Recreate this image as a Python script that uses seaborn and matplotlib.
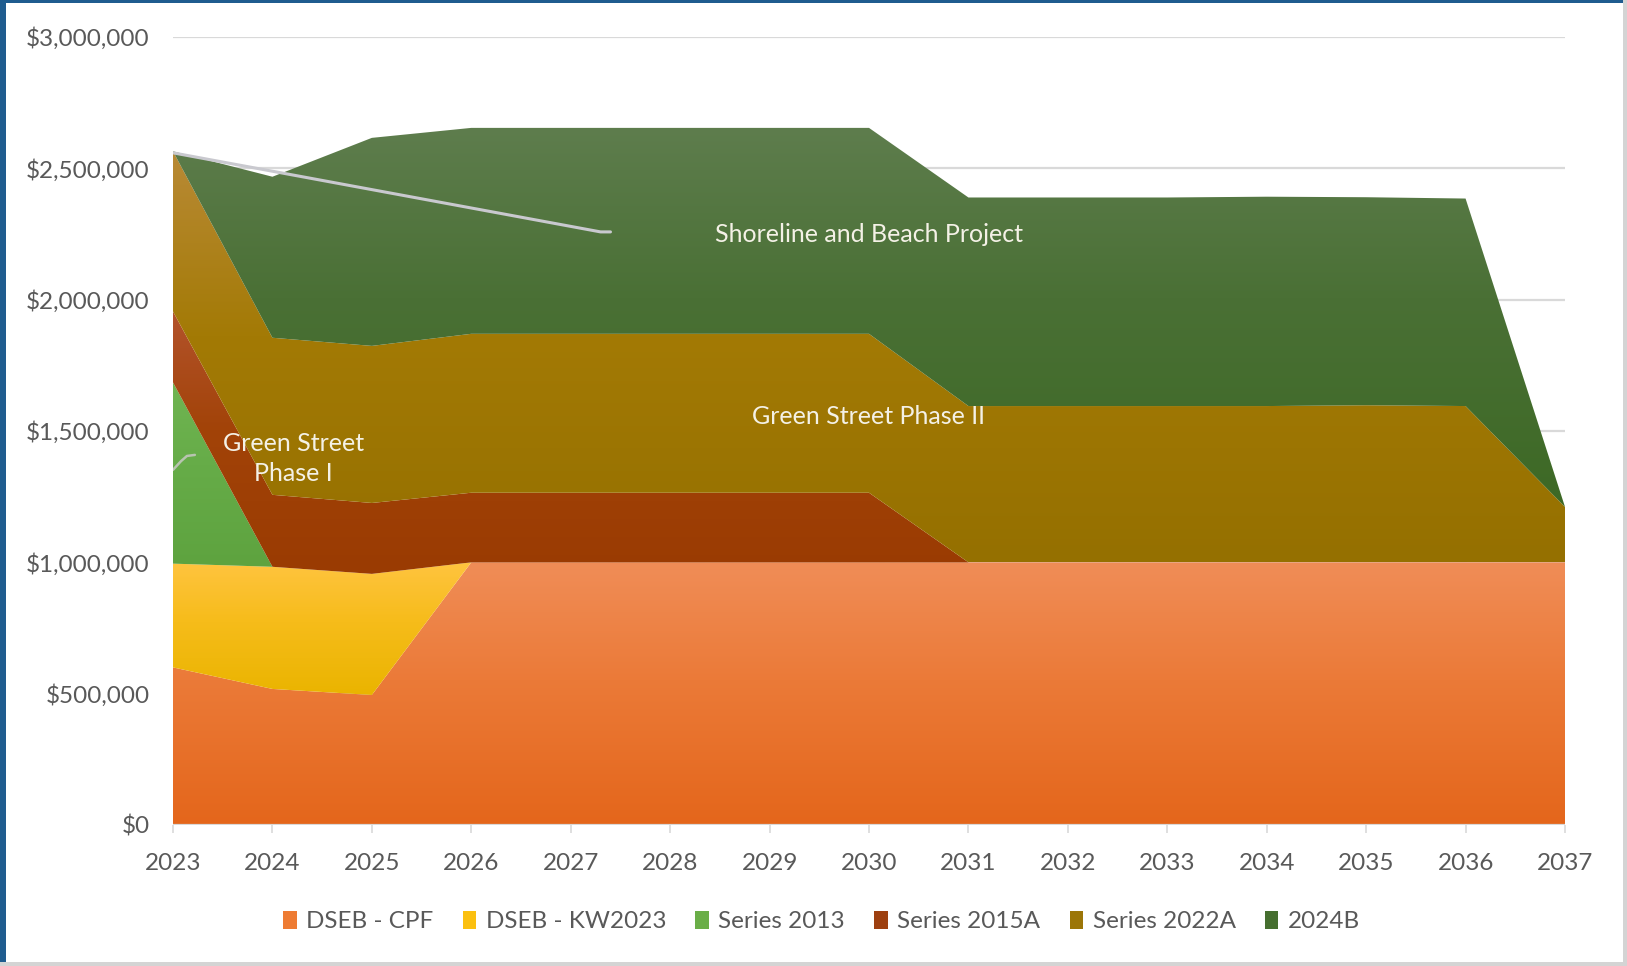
import numpy as np
import pandas as pd
import matplotlib
matplotlib.use("Agg")
import matplotlib.pyplot as plt
import seaborn as sns
from matplotlib.colors import LinearSegmentedColormap
from matplotlib.patches import Patch, Rectangle
from matplotlib.ticker import FuncFormatter, MultipleLocator

# ---- data -------------------------------------------------------------
years = list(range(2023, 2038))
series_names = ["DSEB - CPF", "DSEB - KW2023", "Series 2013",
                "Series 2015A", "Series 2022A", "2024B"]
dseb_cpf = [600000, 518000, 495000] + [1000000] * 12
dseb_kw2023 = [395000, 465000, 461000] + [0] * 12
series_2013 = [690000] + [0] * 14
series_2015a = [270000, 274000, 270000, 265000, 265000, 265000, 265000, 265000] + [0] * 7
series_2022a = [610000, 598000, 598000, 605000, 605000, 605000, 605000, 605000,
                595000, 595000, 595000, 595000, 598000, 595000, 211000]
series_2024b = [0, 613000, 792000, 784000, 784000, 784000, 784000, 784000,
                794000, 794000, 794000, 797000, 792000, 790000, 0]

annotations = [
    ("Shoreline and Beach Project", 2030.0, 2250000),
    ("Green Street Phase II", 2030.0, 1555000),
    ("Green Street\nPhase I", 2024.21, 1395000),
]

# gradient stops per series, bottom -> top
grad_colors = [
    ["#E4661B", "#EB7A38", "#F08D57"],
    ["#EAB400", "#F6BC1A", "#FFC43F"],
    ["#5EA33F", "#66AC48", "#70B552"],
    ["#9A3B02", "#A24308", "#B3532C"],
    ["#957000", "#A37A05", "#B98A36"],
    ["#3D6925", "#4A7035", "#5E7D4D"],
]
legend_colors = ["#EE7B33", "#FBC010", "#6AAE48", "#9E4010", "#9C7608", "#466F30"]

df = pd.DataFrame({"year": years, "DSEB - CPF": dseb_cpf,
                   "DSEB - KW2023": dseb_kw2023, "Series 2013": series_2013,
                   "Series 2015A": series_2015a, "Series 2022A": series_2022a,
                   "2024B": series_2024b})

# ---- style ------------------------------------------------------------
sns.set_theme(style="white")
plt.rcParams["font.family"] = ["Lato", "DejaVu Sans"]
TICK_SIZE = 17.5

fig = plt.figure(figsize=(16.27, 9.66), dpi=100)
fig.patch.set_facecolor("white")
ax = fig.add_axes([173 / 1627, 1 - 825 / 966, (1565 - 173) / 1627, (825 - 37) / 966])
ax.set_facecolor("white")

x = df["year"].to_numpy(dtype=float)
lower = np.zeros(len(x))
grad = np.linspace(0, 1, 256).reshape(-1, 1)
for name, stops in zip(series_names, grad_colors):
    vals = df[name].to_numpy(dtype=float)
    upper = lower + vals
    poly = ax.fill_between(x, lower, upper, facecolor="none", edgecolor="none",
                           linewidth=0, zorder=2)
    cmap = LinearSegmentedColormap.from_list(
        name, list(zip([0.0, 0.55, 1.0], stops)))
    idx = np.where(vals > 0)[0]
    lo_i = max(idx.min() - 1, 0)
    hi_i = min(idx.max() + 1, len(x) - 1)
    ymin = lower[lo_i:hi_i + 1].min()
    ymax = upper[lo_i:hi_i + 1].max()
    im = ax.imshow(grad, cmap=cmap, aspect="auto", origin="lower",
                   extent=[x[0], x[-1], ymin, ymax], zorder=2,
                   interpolation="bilinear")
    im.set_clip_path(poly.get_paths()[0], transform=ax.transData)
    lower = upper

ax.set_xlim(2023, 2037)
ax.set_ylim(0, 3000000)

# grid and axes
ax.yaxis.set_major_locator(MultipleLocator(500000))
ax.yaxis.set_major_formatter(FuncFormatter(lambda v, p: f"${v:,.0f}"))
ax.set_xticks(years)
ax.set_xticklabels([str(y) for y in years])
for v in np.arange(500000, 3000001, 500000):
    ax.axhline(v, color="#D9D9D9", lw=1.6, zorder=1)
ax.axhline(0, color="#D9D9D9", lw=1.6, zorder=3)
for s in ax.spines.values():
    s.set_visible(False)
ax.tick_params(axis="y", length=0, pad=17, labelsize=TICK_SIZE, labelcolor="#595959")
ax.tick_params(axis="x", length=6, width=1.2, color="#D9D9D9", pad=14,
               labelsize=TICK_SIZE, labelcolor="#595959", bottom=True)
ax.grid(False)

# leader lines
ax.plot([2023, 2027.3, 2027.4], [2559000, 2258000, 2258000],
        color="#C9C9CF", lw=2.2, zorder=4, solid_capstyle="round")
ax.plot([2023.0, 2023.08, 2023.14, 2023.22], [1352000, 1385000, 1405000, 1409000],
        color="#B8C4B0", lw=1.8, zorder=4, solid_capstyle="round")

for txt, tx, ty in annotations:
    ax.text(tx, ty, txt, color="#F4F1E6", fontsize=18, ha="center",
            va="center", linespacing=1.4, zorder=5)

# legend
handles = [Patch(facecolor=c, edgecolor="none") for c in legend_colors]
fig.legend(handles, series_names, loc="center", bbox_to_anchor=(0.505, 0.046),
           ncol=6, frameon=False, fontsize=TICK_SIZE, labelcolor="#595959",
           handlelength=0.55, handleheight=0.75, handletextpad=0.4,
           columnspacing=1.2)

# frame strips around the chart area
fig.add_artist(Rectangle((0, 0), 6 / 1627, 1, transform=fig.transFigure,
                         facecolor="#1F5C8F", edgecolor="none", zorder=10))
fig.add_artist(Rectangle((0, 1 - 3 / 966), 1, 3 / 966, transform=fig.transFigure,
                         facecolor="#1F5C8F", edgecolor="none", zorder=10))
fig.add_artist(Rectangle((1 - 4 / 1627, 0), 4 / 1627, 1, transform=fig.transFigure,
                         facecolor="#D4D4D4", edgecolor="none", zorder=10))
fig.add_artist(Rectangle((0, 0), 1, 4 / 966, transform=fig.transFigure,
                         facecolor="#D4D4D4", edgecolor="none", zorder=10))

fig.savefig("out.png", dpi=100)
